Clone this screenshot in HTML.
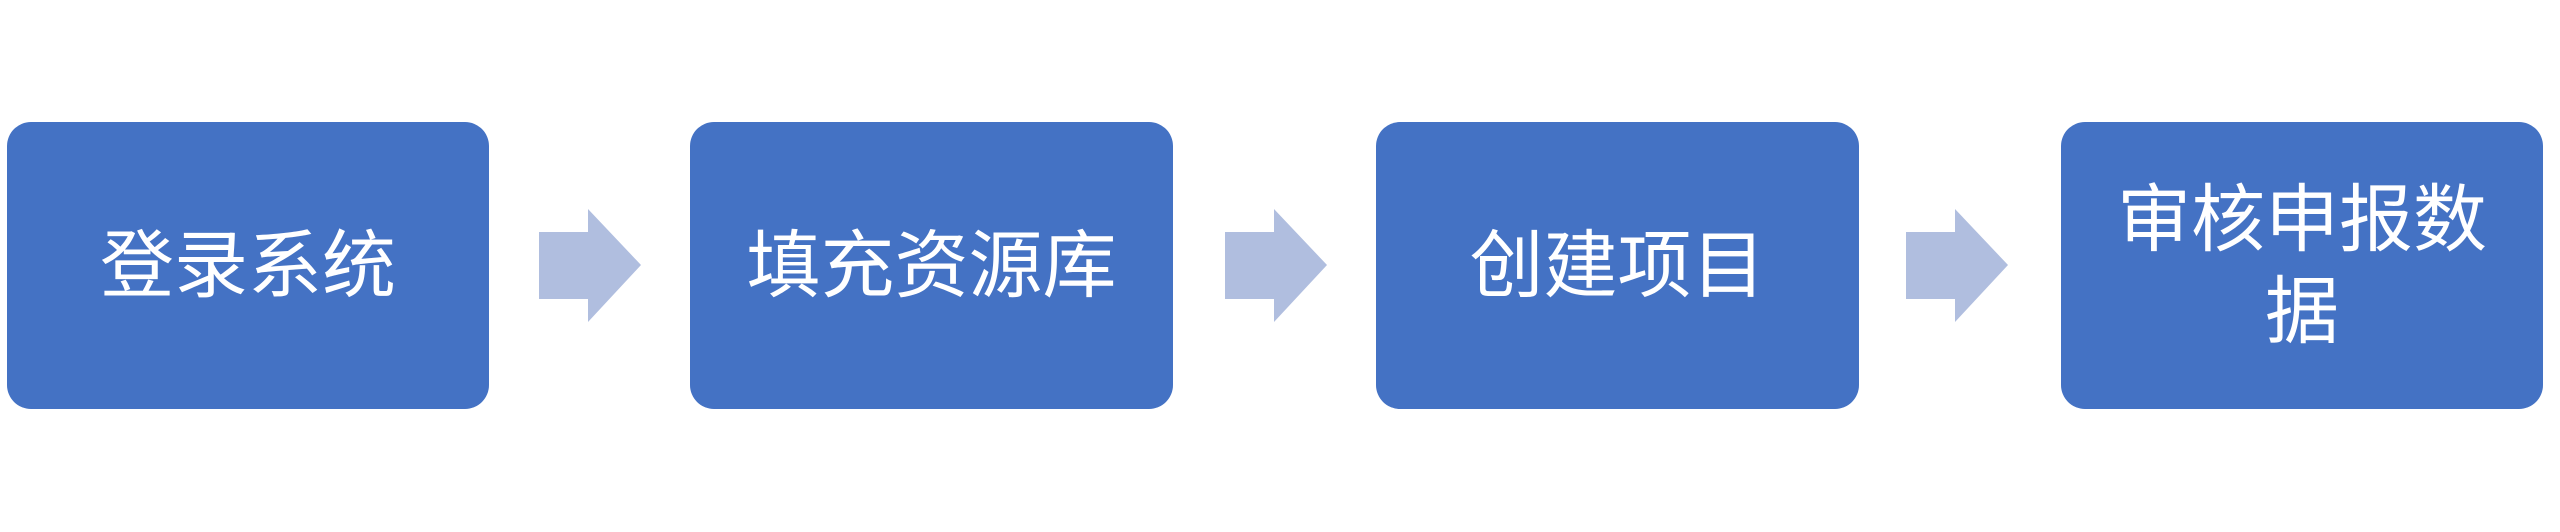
<!DOCTYPE html>
<html><head><meta charset="utf-8"><style>
html,body{margin:0;padding:0;width:2560px;height:532px;background:#fff;overflow:hidden}
.b{position:absolute;top:122px;height:287px;background:#4472C4;border-radius:24px;display:flex;align-items:center;justify-content:center;text-align:center;color:#fff;font-family:"Liberation Sans","Noto Sans CJK SC",sans-serif;font-size:74px;font-weight:400;line-height:92px}
svg{position:absolute;top:0;left:0}
</style></head><body>
<div class="b" style="left:7px;width:482px">登录系统</div>
<div class="b" style="left:690px;width:483px">填充资源库</div>
<div class="b" style="left:1376px;width:483px">创建项目</div>
<div class="b" style="left:2061px;width:482px;padding:0 40px;box-sizing:border-box">审核申报数据</div>
<svg width="2560" height="532">
<g fill="#B0BEDF">
<polygon points="539,232 588,232 588,209 641,265 588,322 588,299 539,299"/>
<polygon points="1225,232 1274,232 1274,209 1327,265 1274,322 1274,299 1225,299"/>
<polygon points="1906,232 1955,232 1955,209 2008,265 1955,322 1955,299 1906,299"/>
</g></svg>
</body></html>
